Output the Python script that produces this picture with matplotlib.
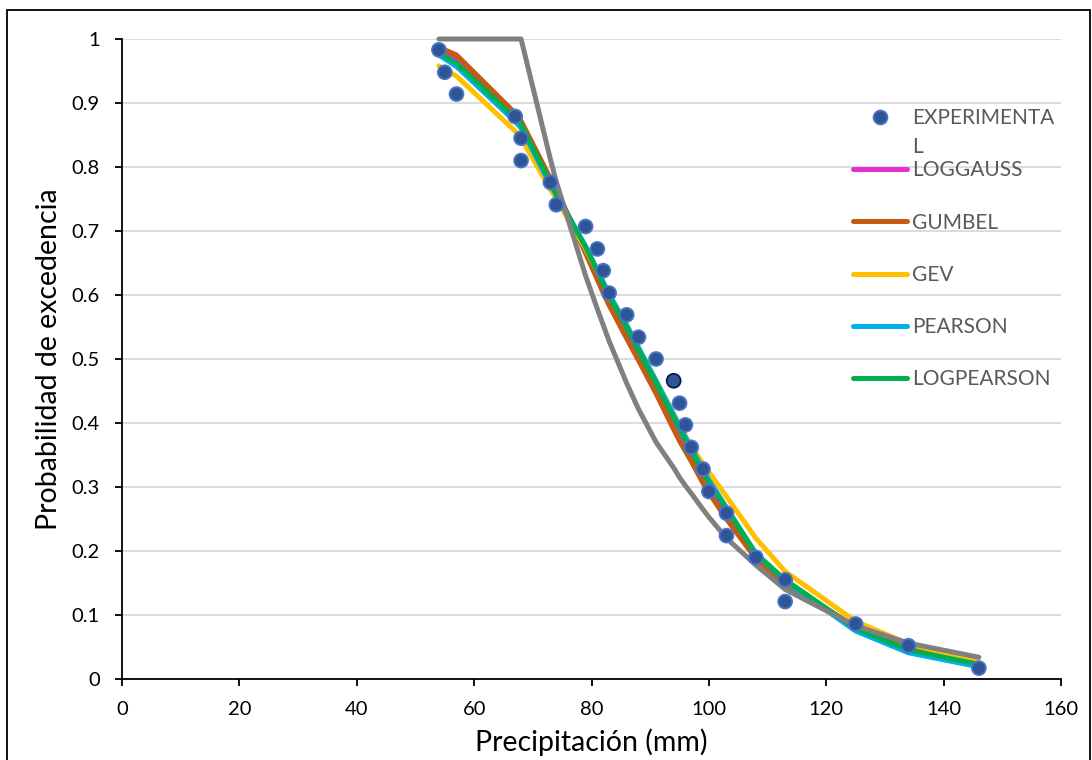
import matplotlib.pyplot as plt
from matplotlib.lines import Line2D
from matplotlib.patches import Rectangle

plt.rcParams['font.family'] = ['Lato', 'DejaVu Sans']

# precipitation values (mm) of the observed series, sorted
precip = [54, 55, 57, 67, 68, 68, 73, 74, 79, 81, 82, 83, 86, 88, 91, 94, 95, 96, 97,
          99, 100, 103, 103, 108, 113, 113, 125, 134, 146]

# empirical exceedance probability
experimental = [0.983, 0.948, 0.914, 0.879, 0.845, 0.810, 0.776, 0.741, 0.707, 0.672,
                0.638, 0.603, 0.569, 0.534, 0.500, 0.466, 0.431, 0.397, 0.362, 0.328,
                0.293, 0.259, 0.224, 0.190, 0.155, 0.121, 0.086, 0.052, 0.017]

# fitted distributions evaluated at the same precipitation values
loggauss = [0.982, 0.978, 0.968, 0.880, 0.869, 0.869, 0.778, 0.762, 0.670, 0.630,
            0.610, 0.591, 0.541, 0.507, 0.454, 0.400, 0.382, 0.365, 0.349, 0.315,
            0.299, 0.258, 0.258, 0.192, 0.151, 0.151, 0.078, 0.045, 0.021]
gumbel = [0.986, 0.983, 0.975, 0.884, 0.872, 0.872, 0.782, 0.765, 0.665, 0.624,
          0.603, 0.584, 0.532, 0.498, 0.446, 0.390, 0.372, 0.356, 0.340, 0.306,
          0.291, 0.250, 0.250, 0.188, 0.148, 0.148, 0.082, 0.051, 0.026]
gev = [0.958, 0.952, 0.942, 0.856, 0.845, 0.845, 0.765, 0.750, 0.672, 0.637,
       0.619, 0.601, 0.553, 0.518, 0.466, 0.414, 0.397, 0.380, 0.364, 0.336,
       0.323, 0.285, 0.285, 0.220, 0.168, 0.168, 0.090, 0.055, 0.027]
pearson = [0.975, 0.969, 0.957, 0.871, 0.861, 0.861, 0.772, 0.756, 0.676, 0.639,
           0.620, 0.601, 0.553, 0.518, 0.466, 0.413, 0.395, 0.378, 0.361, 0.327,
           0.311, 0.268, 0.268, 0.196, 0.153, 0.153, 0.075, 0.041, 0.019]
logpearson = [0.978, 0.973, 0.962, 0.876, 0.866, 0.866, 0.775, 0.758, 0.675, 0.637,
              0.617, 0.598, 0.549, 0.514, 0.462, 0.409, 0.391, 0.374, 0.357, 0.323,
              0.307, 0.266, 0.266, 0.196, 0.155, 0.155, 0.079, 0.045, 0.023]
# grey curve (not in the visible legend)
exponential = [1.0, 1.0, 1.0, 1.0, 1.0, 1.0, 0.812, 0.777, 0.630, 0.578,
               0.553, 0.528, 0.462, 0.422, 0.370, 0.330, 0.315, 0.302, 0.290, 0.265,
               0.253, 0.220, 0.220, 0.178, 0.140, 0.140, 0.083, 0.056, 0.034]

highlight_index = 15

fig = plt.figure(figsize=(10.92, 7.6), dpi=100)
ax = fig.add_axes([122 / 1092, 1 - 679 / 760, 939 / 1092, 640 / 760])

lw = 3.6
ax.plot(precip, loggauss, color='#E62ED2', lw=lw, solid_capstyle='round', zorder=3)
ax.plot(precip, gumbel, color='#C55A11', lw=lw, solid_capstyle='round', zorder=3)
ax.plot(precip, gev, color='#FFC000', lw=lw, solid_capstyle='round', zorder=3)
ax.plot(precip, pearson, color='#00B0F0', lw=lw, solid_capstyle='round', zorder=3)
ax.plot(precip, logpearson, color='#00B050', lw=lw, solid_capstyle='round', zorder=3)
ax.plot(precip, exponential, color='#808080', lw=lw, solid_capstyle='round', zorder=4,
        clip_on=False)

edges = ['#4A76C6'] * len(precip)
edges[highlight_index] = '#0B1A45'
ax.scatter(precip, experimental, s=100, color='#2F5597', edgecolors=edges,
           linewidths=1.3, zorder=5, clip_on=False)

ax.set_xlim(0, 160)
ax.set_ylim(0, 1)
ax.set_xticks(range(0, 161, 20))
ax.set_yticks([i / 10 for i in range(11)])
ax.set_yticklabels(['0', '0.1', '0.2', '0.3', '0.4', '0.5', '0.6', '0.7', '0.8', '0.9', '1'])
ax.tick_params(axis='both', labelsize=14.5, length=5, width=1.3, pad=11, color='black')
ax.grid(axis='y', color='#D9D9D9', lw=1.3, zorder=0)
ax.set_axisbelow(True)
for side in ['top', 'right']:
    ax.spines[side].set_visible(False)
for side in ['left', 'bottom']:
    ax.spines[side].set_linewidth(1.3)
    ax.spines[side].set_color('black')

ax.set_xlabel('Precipitación (mm)', fontsize=20.5, labelpad=7)
ax.set_ylabel('Probabilidad de excedencia', fontsize=20.5, labelpad=7)

handles = [
    Line2D([], [], ls='none', marker='o', markersize=10, color='#2F5597',
           markeredgecolor='#4A76C6', markeredgewidth=1.3),
    Line2D([], [], color='#E62ED2', lw=lw, solid_capstyle='round'),
    Line2D([], [], color='#C55A11', lw=lw, solid_capstyle='round'),
    Line2D([], [], color='#FFC000', lw=lw, solid_capstyle='round'),
    Line2D([], [], color='#00B0F0', lw=lw, solid_capstyle='round'),
    Line2D([], [], color='#00B050', lw=lw, solid_capstyle='round'),
]
labels = ['EXPERIMENTA', 'LOGGAUSS', 'GUMBEL', 'GEV', 'PEARSON', 'LOGPEARSON']
leg = ax.legend(handles, labels, loc='upper left',
                bbox_to_anchor=(853 / 1092, 1 - 108 / 760),
                bbox_transform=fig.transFigure, frameon=False, borderpad=0,
                borderaxespad=0, handlelength=2.59, handletextpad=0.24,
                labelspacing=1.55, fontsize=15, labelcolor='#595959')

# wrapped remainder of the first legend label
fig.canvas.draw()
bb = leg.get_texts()[0].get_window_extent()
fig.text(bb.x0 / fig.bbox.width, ((bb.y0 + bb.y1) / 2 - 29) / fig.bbox.height, 'L',
         fontsize=15, color='#595959', va='center', ha='left')

# chart area border
fig.patches.append(Rectangle((7 / 1092, -0.05), 1083 / 1092, 1.05 - 10 / 760,
                             transform=fig.transFigure, fill=False,
                             edgecolor='black', lw=1.3))

fig.savefig('out.png', dpi=100)
